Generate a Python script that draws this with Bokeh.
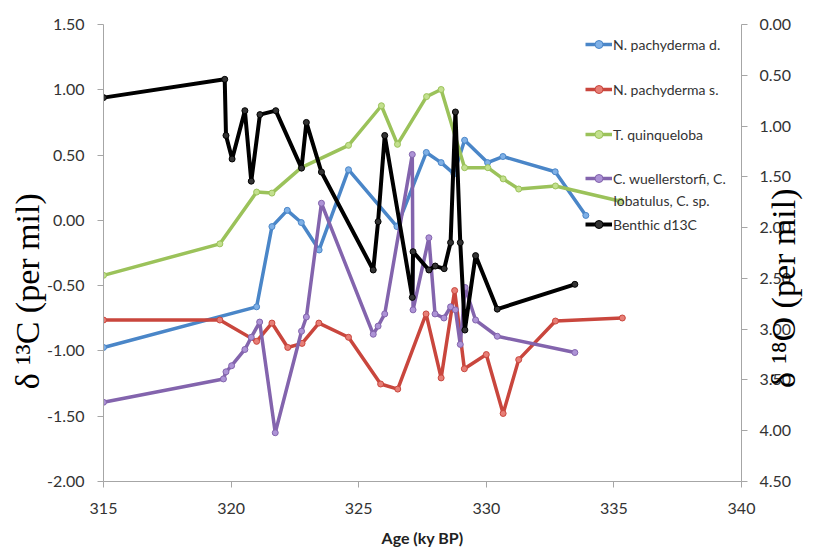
import math
from bokeh.plotting import figure
from bokeh.models import (LinearAxis, Range1d, FixedTicker, NumeralTickFormatter,
                          Legend, LegendItem, Label)
from bokeh.embed import file_html
from bokeh.resources import INLINE

# ---- data ----
x_ticks = [315, 320, 325, 330, 335, 340]
left_ticks = [-2.0, -1.5, -1.0, -0.5, 0.0, 0.5, 1.0, 1.5]
right_ticks = [0.0, 0.5, 1.0, 1.5, 2.0, 2.5, 3.0, 3.5, 4.0, 4.5]

# N. pachyderma d. (d18O, right axis)
nd_age = [315.0, 321.0, 321.6, 322.2, 322.75, 323.45, 324.6, 326.5, 327.65, 328.23,
          328.73, 329.15, 330.05, 330.65, 332.7, 333.9]
nd_val = [3.18, 2.78, 1.99, 1.83, 1.95, 2.22, 1.43, 1.99, 1.26, 1.36,
          1.47, 1.14, 1.36, 1.30, 1.45, 1.88]

# N. pachyderma s. (d18O, right axis)
ns_age = [315.0, 319.56, 321.0, 321.6, 322.22, 322.78, 323.44, 324.6, 325.86, 326.53,
          327.64, 328.23, 328.76, 329.14, 330.0, 330.66, 331.27, 332.71, 335.33]
ns_val = [2.91, 2.91, 3.12, 2.94, 3.18, 3.14, 2.94, 3.08, 3.54, 3.59,
          2.85, 3.48, 2.62, 3.39, 3.25, 3.83, 3.30, 2.92, 2.89]

# T. quinqueloba (d18O, right axis)
tq_age = [315.0, 319.56, 321.0, 321.6, 322.75, 324.6, 325.89, 326.52, 327.66, 328.23,
          329.15, 330.06, 330.66, 331.27, 332.71, 335.26]
tq_val = [2.47, 2.16, 1.65, 1.66, 1.41, 1.19, 0.80, 1.18, 0.71, 0.64,
          1.41, 1.41, 1.52, 1.62, 1.59, 1.74]

# C. wuellerstorfi, C. lobatulus, C. sp. (d18O, right axis)
cw_age = [315.0, 319.7, 319.8, 320.02, 320.54, 320.79, 321.12, 321.73, 322.76, 322.95,
          323.54, 325.57, 325.76, 326.02, 327.1, 327.13, 327.75, 327.99, 328.34, 328.6,
          328.79, 328.98, 329.17, 329.58, 330.43, 333.47]
cw_val = [3.72, 3.49, 3.42, 3.36, 3.20, 3.08, 2.93, 4.02, 3.02, 2.88,
          1.76, 3.05, 2.97, 2.85, 1.28, 2.81, 2.10, 2.85, 2.89, 2.78,
          2.81, 3.15, 2.59, 2.91, 3.07, 3.23]

# Benthic d13C (left axis)
bn_age = [315.0, 319.75, 319.8, 320.04, 320.54, 320.79, 321.13, 321.75, 322.76, 322.95,
          323.54, 325.57, 325.76, 326.02, 327.1, 327.13, 327.75, 328.0, 328.35, 328.6,
          328.79, 328.98, 329.16, 329.58, 330.43, 333.47]
bn_val = [0.94, 1.08, 0.65, 0.47, 0.84, 0.30, 0.81, 0.84, 0.40, 0.75,
          0.37, -0.38, -0.01, 0.65, -0.59, -0.24, -0.38, -0.35, -0.37, -0.17,
          0.83, -0.17, -0.84, -0.27, -0.68, -0.49]

names = ["N. pachyderma d.", "N. pachyderma s.", "T. quinqueloba",
         "C. wuellerstorfi, C.", "Benthic d13C"]
name_cont = "lobatulus, C. sp."

TICK_FONT = "Lato"
AXIS_GRAY = "#a6a6a6"
TEXT = "#333333"
NB = "\u00a0"

p = figure(width=823, height=560, x_range=Range1d(315, 340), y_range=Range1d(-2.0, 1.5),
           output_backend="svg", toolbar_location=None,
           min_border_left=103, min_border_right=82, min_border_top=24, min_border_bottom=79)
p.extra_y_ranges = {"d18o": Range1d(start=4.5, end=0.0)}
p.xgrid.visible = False
p.ygrid.visible = False
p.outline_line_color = None
p.background_fill_color = "white"
p.border_fill_color = "white"

def style_axis(ax, fmt):
    ax.formatter = NumeralTickFormatter(format=fmt)
    ax.axis_line_color = AXIS_GRAY
    ax.major_tick_line_color = AXIS_GRAY
    ax.minor_tick_line_color = None
    ax.major_tick_out = 6
    ax.major_tick_in = 0
    ax.major_label_text_font = TICK_FONT
    ax.major_label_text_font_size = "16px"
    ax.major_label_text_color = TEXT

xa = p.xaxis[0]
xa.ticker = FixedTicker(ticks=x_ticks)
style_axis(xa, "0")
xa.major_label_standoff = 15
xa.axis_label = "Age (ky BP)"
xa.axis_label_text_font = TICK_FONT
xa.axis_label_text_font_style = "bold"
xa.axis_label_text_font_size = "16px"
xa.axis_label_text_color = "#222222"
xa.axis_label_standoff = 11

ya = p.yaxis[0]
ya.ticker = FixedTicker(ticks=left_ticks)
style_axis(ya, "0.00")
ya.major_label_standoff = 13
ya.axis_label = "δ ¹³C (per mil)" + NB * 9
ya.axis_label_text_font = "Liberation Serif"
ya.axis_label_text_font_size = "34px"
ya.axis_label_text_font_style = "normal"
ya.axis_label_text_color = "#000000"
ya.axis_label_standoff = -2

# right axis with its title (reading bottom-to-top, overlapping the tick labels)
ra = LinearAxis(y_range_name="d18o", ticker=FixedTicker(ticks=right_ticks))
style_axis(ra, "0.00")
ra.major_label_standoff = 12
ra.axis_label = NB * 11 + "δ ¹⁸O (per mil)"
ra.axis_label_text_font = "Liberation Serif"
ra.axis_label_text_font_size = "34px"
ra.axis_label_text_font_style = "normal"
ra.axis_label_text_color = "#000000"
ra.axis_label_standoff = -11
props = ra.properties()
if "axis_label_orientation" in props:
    ra.axis_label_orientation = math.pi / 2
if "axis_label_align" in props:
    ra.axis_label_align = "end"
p.add_layout(ra, "right")

colors = ["#4a86c8", "#c9463d", "#9bc25a", "#8364ad", "#000000"]
fills = ["#7fb0e6", "#e77e76", "#c3e08e", "#ad93d6", "#333333"]
series = [(nd_age, nd_val, "d18o"), (ns_age, ns_val, "d18o"), (tq_age, tq_val, "d18o"),
          (cw_age, cw_val, "d18o"), (bn_age, bn_val, "default")]

items = []
for i, (xs, ys, rng) in enumerate(series):
    lw = 4 if i == 4 else 3.5
    lr = p.line(xs, ys, line_color=colors[i], line_width=lw, y_range_name=rng,
                line_join="round")
    sr = p.scatter(xs, ys, size=6, fill_color=fills[i], line_color=colors[i],
                   line_width=1, y_range_name=rng)
    items.append(LegendItem(label=names[i], renderers=[lr, sr]))

def make_legend(its, loc):
    return Legend(items=its, location=loc, padding=0, margin=0, spacing=0,
                  glyph_width=27, glyph_height=20, label_height=20, label_standoff=1,
                  label_text_font=TICK_FONT, label_text_font_size="14px",
                  label_text_color=TEXT, border_line_color=None,
                  background_fill_alpha=0.0)

legend_locs = [(482, 427), (482, 382), (482, 337), (482, 293), (482, 247)]
for it, loc in zip(items, legend_locs):
    p.add_layout(make_legend([it], loc))

# second line of the C. wuellerstorfi legend entry
p.add_layout(Label(x=510, y=281, x_units="screen", y_units="screen", text=name_cont,
                   text_font=TICK_FONT, text_font_size="14px", text_color=TEXT,
                   text_align="left", text_baseline="middle"))

open("out.html", "w").write(file_html(p, INLINE))
